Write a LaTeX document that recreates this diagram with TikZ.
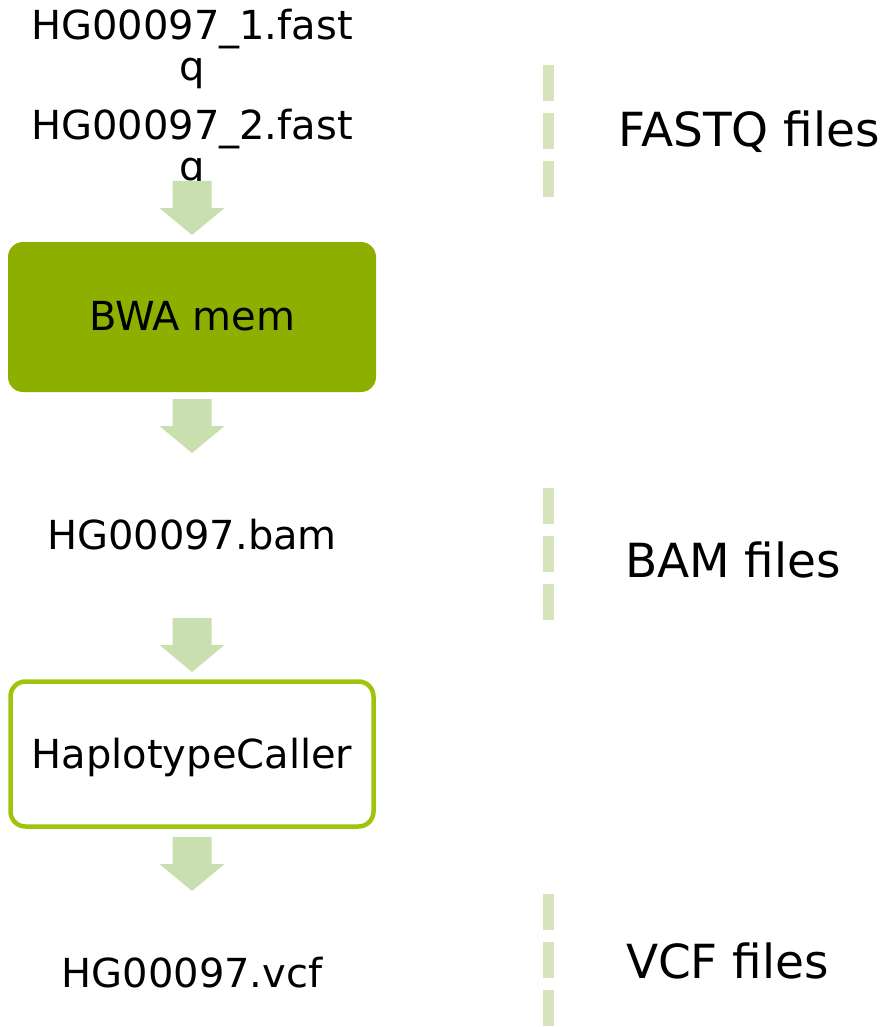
\documentclass[tikz,border=0pt]{standalone}
\usepackage{fontspec}
\setmainfont{DejaVu Sans}
\definecolor{bwafill}{RGB}{141,176,0}
\definecolor{hcborder}{RGB}{158,196,12}
\definecolor{arrowfill}{RGB}{202,223,176}
\definecolor{dashcol}{RGB}{214,228,190}
\tikzset{
  txt/.style={inner sep=0pt, anchor=base, font=\fontsize{40}{41}\selectfont, align=center},
  bigtxt/.style={inner sep=0pt, anchor=base, font=\fontsize{47}{50}\selectfont},
  bwabox/.style={draw=none, fill=bwafill, rounded corners=15pt, inner sep=0pt,
     minimum width=368pt, minimum height=150pt},
  hcbox/.style={draw=hcborder, line width=4.5pt, fill=white, rounded corners=15pt, inner sep=0pt,
     minimum width=363pt, minimum height=145pt},
  downarrow/.pic={\fill[arrowfill] (-19.5,0) -- (19.5,0) -- (19.5,27) -- (32.5,27) -- (0,54) -- (-32.5,27) -- (-19.5,27) -- cycle;},
  dashline/.style={draw=dashcol, line width=11pt, dash pattern=on 36pt off 12pt},
}
\begin{document}
\begin{tikzpicture}[x=1pt,y=-1pt]
\useasboundingbox[fill=white] (0,0) rectangle (889,1027);
% left column
\node[txt] (f1) at (192,81) {HG00097\_1.fast\\q};
\node[txt] (f2) at (192,181) {HG00097\_2.fast\\q};
\coordinate (a1) at (192,181);
\pic at (a1) {downarrow};
\node[bwabox] (bwa) at (192,317) {};
\node[txt] (bwat) at (192,330) {BWA mem};
\coordinate (a2) at (192,399);
\pic at (a2) {downarrow};
\node[txt] (bam) at (192,549) {HG00097.bam};
\coordinate (a3) at (192,618);
\pic at (a3) {downarrow};
\node[hcbox] (hc) at (192,754) {};
\node[txt] (hct) at (192,768) {HaplotypeCaller};
\coordinate (a4) at (192,837);
\pic at (a4) {downarrow};
\node[txt] (vcf) at (192,987) {HG00097.vcf};
% right column
\coordinate (d1t) at (548,65);
\coordinate (d1b) at (548,197);
\coordinate (d2t) at (548,488);
\coordinate (d2b) at (548,620);
\coordinate (d3t) at (548,894);
\coordinate (d3b) at (548,1026);
\draw[dashline] (d1t) -- (d1b);
\draw[dashline] (d2t) -- (d2b);
\draw[dashline] (d3t) -- (d3b);
\node[bigtxt] (fq) at (749,147) {FASTQ files};
\node[bigtxt] (bm) at (733,577) {BAM files};
\node[bigtxt] (vc) at (727.5,978) {VCF files};
\end{tikzpicture}
\end{document}
